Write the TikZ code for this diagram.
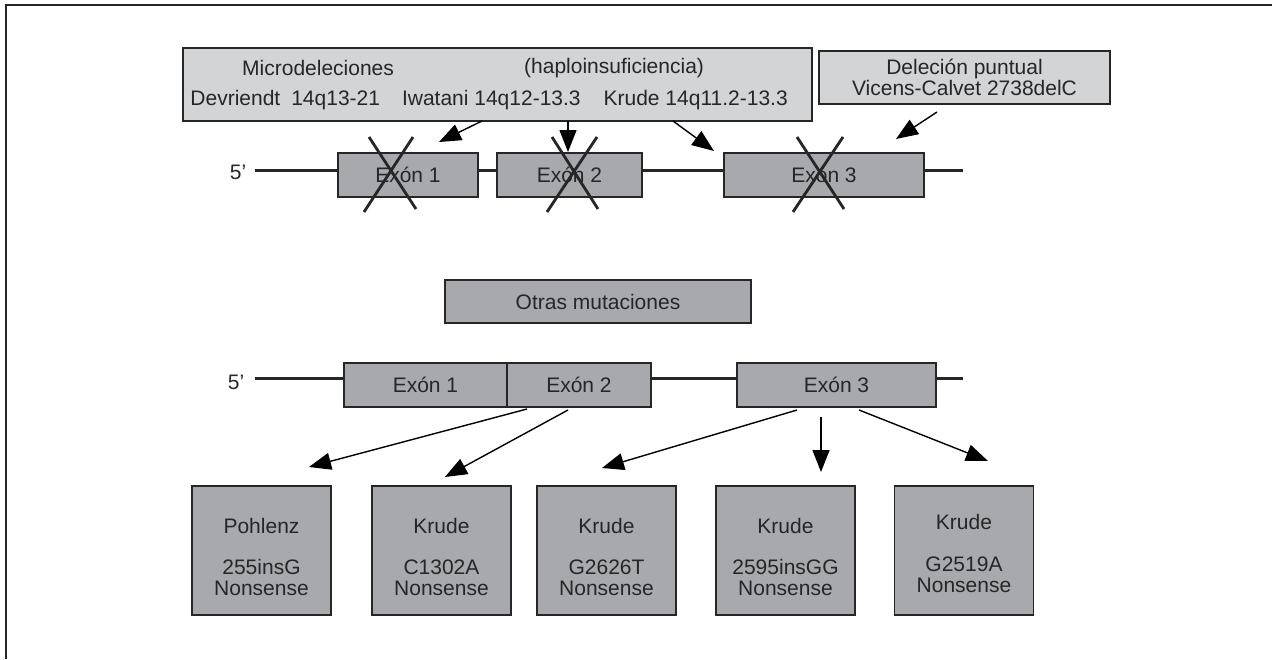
\documentclass[tikz,border=0pt]{standalone}
\usepackage{fontspec}
\setmainfont{Liberation Sans}
\usetikzlibrary{arrows.meta,calc,positioning}
\definecolor{boxgray}{RGB}{168,169,173}
\definecolor{notegray}{RGB}{211,212,214}
\definecolor{inkgray}{RGB}{38,38,38}

\begin{document}
\begin{tikzpicture}[
  x=1pt,y=-1pt,
  >={Triangle[length=22pt,width=17pt]},
  frameline/.style={draw=inkgray,line width=2pt},
  gene/.style={draw=inkgray,line width=3pt},
  cross/.style={draw=inkgray,line width=2.8pt},
  arr/.style={->,draw=black,line width=1.4pt},
  txt/.style={font=\fontsize{21}{21}\selectfont,text=black!85,inner sep=0pt},
  exon/.style={txt,rectangle,draw=inkgray,line width=1.6pt,fill=boxgray,minimum height=44pt},
  notebox/.style={txt,rectangle,draw=inkgray,line width=1.6pt,fill=notegray},
  mutbox/.style={rectangle,draw=inkgray,line width=1.6pt,fill=boxgray,minimum width=139pt,minimum height=129pt,inner sep=0pt},
  mutlab/.style={txt,align=center,font=\fontsize{21}{20.7}\selectfont}
]
\useasboundingbox (0,0) rectangle (1272,659);

% ---------------- frame (top and left only) ----------------
\draw[frameline] (6,659) -- (6,5) -- (1272,5);

% ---------------- deletions ----------------
\node[notebox,minimum width=629pt,minimum height=73pt] (micro) at (497.5,84.5) {};
\node[txt,anchor=west] (microA) at (242,68) {Microdeleciones};
\node[txt,anchor=west] (microB) at (524,68) {(haploinsuficiencia)};
\node[txt,anchor=east] (microC) at (788,100)
  {Devriendt\hspace{11pt}14q13-21\hspace{22pt}Iwatani 14q12-13.3\hspace{23pt}Krude 14q11.2-13.3};

\node[notebox,align=center,minimum width=291pt,minimum height=53pt] (point) at (964.5,77.5)
  {Deleción puntual\\Vicens-Calvet 2738delC};

% gene, first copy
\coordinate (g1s) at (255,170);
\coordinate (g1e) at (963,170);
\draw[gene] (g1s) -- (g1e);
\node[txt] (five1) at (238,172) {5’};

\node[exon,minimum width=140pt] (e1) at (408,175) {Exón 1};
\node[exon,minimum width=145pt] (e2) at (569.5,175) {Exón 2};
\node[exon,minimum width=200pt] (e3) at (824,175) {Exón 3};

% crossed-out exons
\draw[cross] ($(e1)+(-39,-38)$) -- ($(e1)+(8,34)$);
\draw[cross] ($(e1)+(5,-38)$) -- ($(e1)+(-44,37)$);
\draw[cross] ($(e2)+(-17.5,-38)$) -- ($(e2)+(28.5,34)$);
\draw[cross] ($(e2)+(27.5,-38)$) -- ($(e2)+(-22.5,37)$);
\draw[cross] ($(e3)+(-27,-38)$) -- ($(e3)+(20,34)$);
\draw[cross] ($(e3)+(19,-38)$) -- ($(e3)+(-31,37)$);

% arrows from the deletion boxes
\coordinate (d1s) at (482,121);  \coordinate (d1e) at (439,142);
\coordinate (d2s) at (568,121);  \coordinate (d2e) at (568,152);
\coordinate (d3s) at (673,121);  \coordinate (d3e) at (714,151);
\coordinate (d4s) at (937,112);  \coordinate (d4e) at (896,139);
\draw[arr] (d1s) -- (d1e);
\draw[arr] (d2s) -- (d2e);
\draw[arr] (d3s) -- (d3e);
\draw[arr] (d4s) -- (d4e);

% ---------------- other mutations ----------------
\node[exon,minimum width=306pt,minimum height=43pt] (other) at (598,301.5) {Otras mutaciones};

% gene, second copy
\coordinate (g2s) at (255,378);
\coordinate (g2e) at (963,378);
\draw[gene] (g2s) -- (g2e);
\node[txt] (five2) at (236,382) {5’};

\node[exon,minimum width=163pt] (f1) at (425.5,385) {Exón 1};
\node[exon,minimum width=144pt] (f2) at (579,385) {Exón 2};
\node[exon,minimum width=199pt] (f3) at (836.5,385) {Exón 3};

% mutation boxes
\node[mutbox] (m1) at (261.5,550.5) {};
\node[mutbox] (m2) at (441.5,550.5) {};
\node[mutbox] (m3) at (606.5,550.5) {};
\node[mutbox] (m4) at (785.5,550.5) {};
\node[mutbox] (m5) at (964,550.5) {};
\node[mutlab] (m1t) at ($(m1)+(0,6.5)$) {Pohlenz\\[20.7pt]255insG\\Nonsense};
\node[mutlab] (m2t) at ($(m2)+(0,6.5)$) {Krude\\[20.7pt]C1302A\\Nonsense};
\node[mutlab] (m3t) at ($(m3)+(0,6.5)$) {Krude\\[20.7pt]G2626T\\Nonsense};
\node[mutlab] (m4t) at ($(m4)+(0,6.5)$) {Krude\\[20.7pt]2595insGG\\Nonsense};
\node[mutlab] (m5t) at ($(m5)+(0,3)$) {Krude\\[20.7pt]G2519A\\Nonsense};

% arrows to the mutation boxes
\coordinate (o1s) at (527,409);  \coordinate (o1e) at (309,467);
\coordinate (o2s) at (568,410);  \coordinate (o2e) at (445,477);
\coordinate (o3s) at (797,410);  \coordinate (o3e) at (602,468);
\coordinate (o4s) at (821,417);  \coordinate (o4e) at (821,472);
\coordinate (o5s) at (859,410);  \coordinate (o5e) at (988,461);
\draw[arr] (o1s) -- (o1e);
\draw[arr] (o2s) -- (o2e);
\draw[arr] (o3s) -- (o3e);
\draw[arr] (o4s) -- (o4e);
\draw[arr] (o5s) -- (o5e);

\end{tikzpicture}
\end{document}
